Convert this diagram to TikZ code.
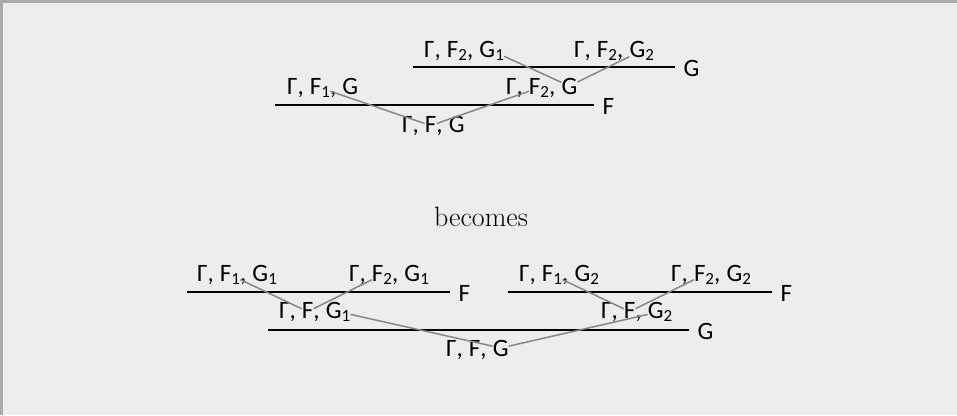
\documentclass[tikz,border=0pt]{standalone}
\usepackage{fontspec}
\newfontfamily\seqfont{Carlito}
\usetikzlibrary{positioning}
\definecolor{paper}{HTML}{EDEDED}
\definecolor{edgegray}{HTML}{ABABAB}
\definecolor{occgray}{HTML}{878787}
\newcommand\lo[1]{\raisebox{-3.5pt}{\fontsize{17}{17}\selectfont #1}}
\def\cgap{12pt}
\tikzset{
  fml/.style={inner sep=0pt, font=\seqfont\fontsize{25}{28}\selectfont},
  infer/.style={line width=1.2pt, black},
  rname/.style={fml, anchor=west, xshift=8pt, yshift=-1.5pt},
  occur/.style={draw=occgray, line width=1.5pt},
}
% one sequent: name, left x, baseline y, second and third formula
\newcommand\sqnt[5]{%
  \node[fml, anchor=base west] (#1a) at (#2,#3) {Γ\rlap{,}};
  \node[fml, anchor=base west] (#1b) at ([xshift=\cgap]#1a.base east) {#4\rlap{,}};
  \node[fml, anchor=base west] (#1c) at ([xshift=\cgap]#1b.base east) {#5};
}
\begin{document}
\begin{tikzpicture}[x=1pt, y=-1pt]
    \useasboundingbox (0,0) rectangle (957,415);
    % Frame
    \fill[paper] (0,0) rectangle (957,415);
    \draw[edgegray, line width=2.5pt] (1.25,415) -- (1.25,1.25) -- (957,1.25);

    % Sequents
    \foreach \nm/\x/\y/\b/\c in {g1/424/57/F\lo2/G\lo1, g2/574/57/F\lo2/G\lo2,
        f1/287/94/F\lo1/G, f2/506/94/F\lo2/G, top/402/132/F/G,
        b1/197/281/F\lo1/G\lo1, b2/349/281/F\lo2/G\lo1,
        b3/519/281/F\lo1/G\lo2, b4/671/281/F\lo2/G\lo2,
        b5/279/318/F/G\lo1, b6/601/318/F/G\lo2, b7/446/356/F/G} {
        \sqnt{\nm}{\x}{\y}{\b}{\c}
    }

    % Rules with their names
    \foreach \xa/\xb/\y/\lab in {413/675/67/G, 275/594/105/F,
        187/450/292/F, 508/772/292/F, 268/689/330/G} {
        \draw[infer] (\xa,\y) -- (\xb,\y) node[rname] (n\xb) {\lab};
    }

    \node[font=\fontsize{28}{30}\selectfont, anchor=base] (bcm) at (481,226) {becomes};

    % Occurrence traces
    \foreach \p/\q/\r in {g1c/f2c/g2c, f1b/topb/f2b, b1b/b5b/b2b,
        b3b/b6b/b4b, b5c/b7c/b6c} {
        \draw[occur] (\p) -- (\q) -- (\r);
    }
\end{tikzpicture}
\end{document}
